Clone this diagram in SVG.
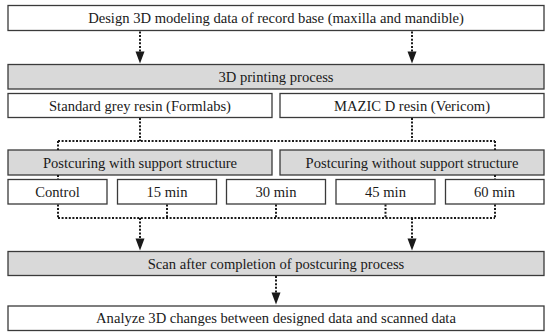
<svg xmlns="http://www.w3.org/2000/svg" width="550" height="336" viewBox="0 0 550 336">
<defs>
<style>
.box{fill:#ffffff;stroke:#3a3a3a;stroke-width:1.3}
.gbox{fill:#d9d9d9;stroke:#3a3a3a;stroke-width:1.3}
.t{font-family:'Liberation Serif',Tinos,'Times New Roman','DejaVu Serif',serif;font-size:14.6px;fill:#1a1a1a;text-anchor:middle;dominant-baseline:central}
.dot{fill:none;stroke:#1a1a1a;stroke-width:2;stroke-dasharray:2 1.6}
.head{fill:#1a1a1a}
</style>
</defs>
<rect width="550" height="336" fill="#ffffff"/>
<g id="design"><rect class="box" x="8" y="5.5" width="536" height="25"/><text class="t" x="276" y="18">Design 3D modeling data of record base (maxilla and mandible)</text></g>
<g id="printing"><rect class="gbox" x="8" y="64.5" width="536" height="24.5"/><text class="t" x="276" y="77">3D printing process</text></g>
<g id="grey-resin"><rect class="box" x="8" y="93.5" width="264" height="24"/><text class="t" x="140" y="105.5">Standard grey resin (Formlabs)</text></g>
<g id="mazic-resin"><rect class="box" x="280" y="93.5" width="264" height="24"/><text class="t" x="412" y="105.5">MAZIC D resin (Vericom)</text></g>
<g id="with-support"><rect class="gbox" x="8" y="150" width="264" height="25"/><text class="t" x="140" y="162.5">Postcuring with support structure</text></g>
<g id="without-support"><rect class="gbox" x="280" y="150" width="264" height="25"/><text class="t" x="412" y="162.5">Postcuring without support structure</text></g>
<g id="control"><rect class="box" x="8" y="179.5" width="99" height="24.5"/><text class="t" x="57.5" y="192">Control</text></g>
<g id="m15"><rect class="box" x="117.5" y="179.5" width="99" height="24.5"/><text class="t" x="167" y="192">15 min</text></g>
<g id="m30"><rect class="box" x="226.5" y="179.5" width="99" height="24.5"/><text class="t" x="276" y="192">30 min</text></g>
<g id="m45"><rect class="box" x="336" y="179.5" width="99" height="24.5"/><text class="t" x="385.5" y="192">45 min</text></g>
<g id="m60"><rect class="box" x="445.5" y="179.5" width="98.5" height="24.5"/><text class="t" x="494.5" y="192">60 min</text></g>
<g id="scan"><rect class="gbox" x="8" y="251.5" width="536" height="24"/><text class="t" x="276" y="263.5">Scan after completion of postcuring process</text></g>
<g id="analyze"><rect class="box" x="8" y="306" width="536" height="24.5"/><text class="t" x="276" y="318">Analyze 3D changes between designed data and scanned data</text></g>
<g id="connectors">
<path class="dot" d="M140 31.5V52M412 31.5V52"/>
<path class="head" d="M135.5 51.5H144.5L140 63.5ZM407.5 51.5H416.5L412 63.5Z"/>
<path class="dot" d="M140 118V141M412 118V141M58 141H495M58 141V150M495 141V150M58 175V179M495 175V179"/>
<path class="dot" d="M58 204.5V218M167 204.5V218M276 204.5V218M385.5 204.5V218M495 204.5V218M58 218H495"/>
<path class="dot" d="M140 218V239M412 218V239"/>
<path class="head" d="M135.5 238.5H144.5L140 250.5ZM407.5 238.5H416.5L412 250.5Z"/>
<path class="dot" d="M276 276V293"/>
<path class="head" d="M271.5 292.5H280.5L276 304.5Z"/>
</g>
</svg>
